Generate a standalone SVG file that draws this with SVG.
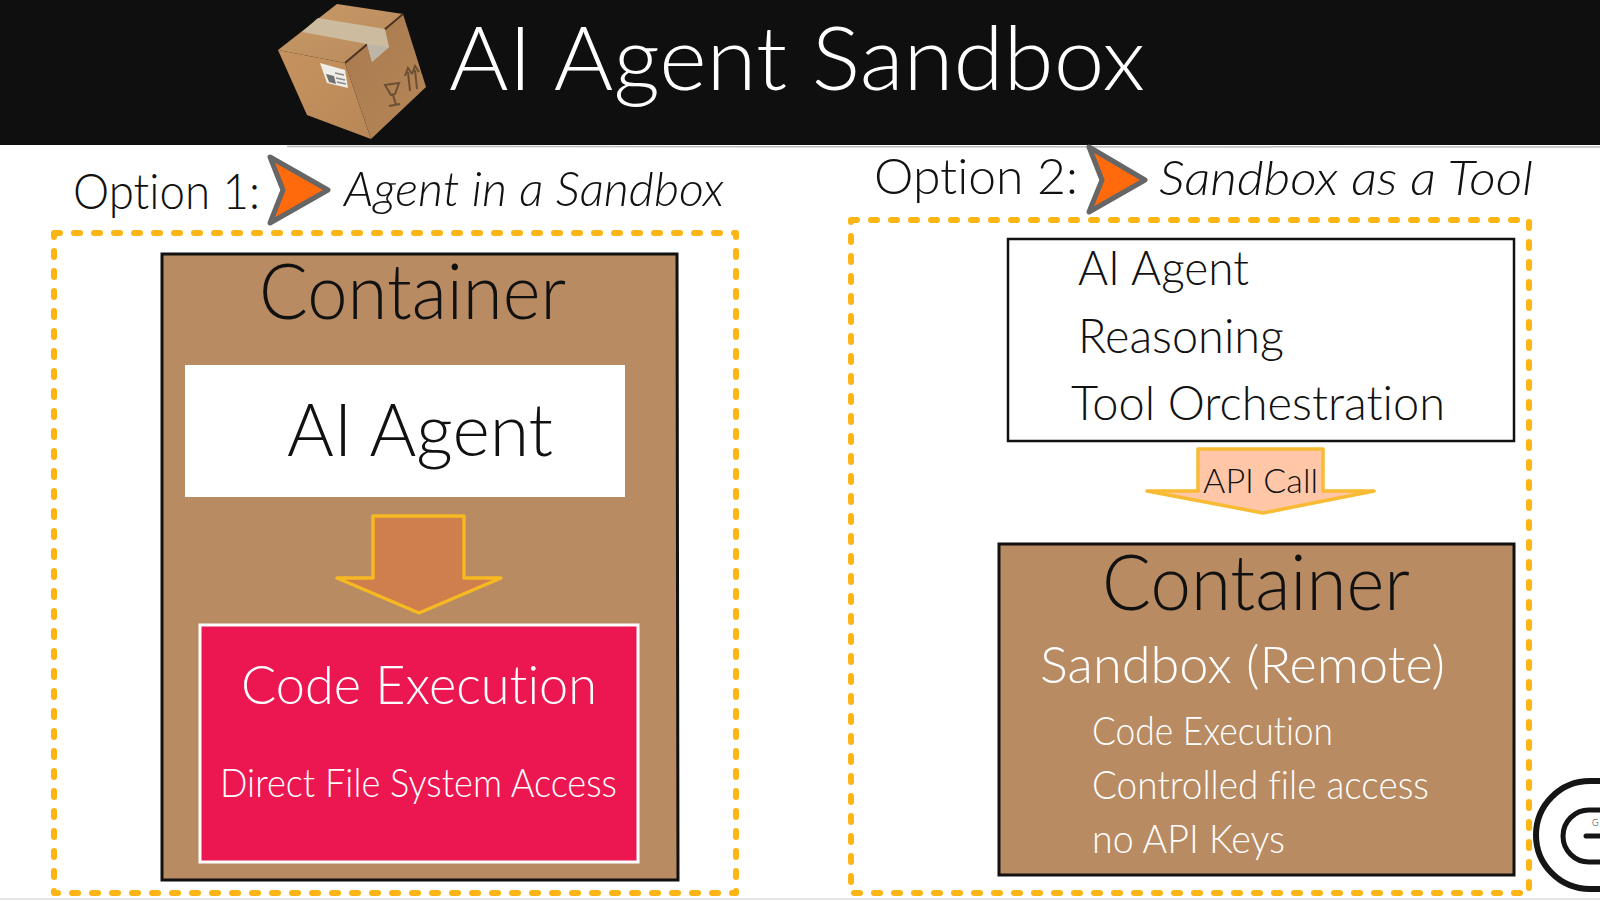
<svg xmlns="http://www.w3.org/2000/svg" width="1600" height="900" viewBox="0 0 1600 900">
<defs>
<linearGradient id="faceL" x1="0" y1="0" x2="1" y2="1"><stop offset="0" stop-color="#c6935f"/><stop offset="1" stop-color="#b98757"/></linearGradient>
<linearGradient id="faceR" x1="0" y1="0" x2="1" y2="1"><stop offset="0" stop-color="#a97a4e"/><stop offset="1" stop-color="#b58656"/></linearGradient>
<linearGradient id="faceT" x1="0" y1="0" x2="1" y2="1"><stop offset="0" stop-color="#c99a68"/><stop offset="1" stop-color="#b98a5a"/></linearGradient>
</defs>
<style>
text{font-family:"Lato","Noto Sans","Liberation Sans",sans-serif;fill:#111;font-weight:300;font-variant-ligatures:none}
.w{fill:#fff}
.i{font-style:italic}
.dash{fill:none;stroke:#fdb515;stroke-width:6;stroke-dasharray:6 14;stroke-linecap:round;stroke-linejoin:round}
.brown{fill:#b98b62;stroke:#111;stroke-width:3}
.opt{fill:#ff6a0d;stroke:#666;stroke-width:5;stroke-linejoin:round}
</style>
<rect width="1600" height="900" fill="#fff"/>
<g id="header">
<rect width="1600" height="145" fill="#0f0f0f"/>
<line x1="287" y1="146.500" x2="1600" y2="147" stroke="#bbb" stroke-width="1.500"/>
<text class="w" x="449" y="90" font-size="88" textLength="696" lengthAdjust="spacingAndGlyphs">AI Agent Sandbox</text>
</g>
<g id="box-icon">
<polygon points="278,50 337,4 403,14 345,63" fill="url(#faceT)"/>
<polygon points="278,50 345,63 371,139 307,115" fill="url(#faceL)"/>
<polygon points="345,63 403,14 426,87 371,139" fill="url(#faceR)"/>
<path d="M345,63 L403,14" stroke="#4a3322" stroke-width="2" fill="none"/>
<polygon points="302,32 318,18 385,29 389,47 372,62 367,44" fill="#cdbb9f"/>
<polygon points="367,44 389,47 372,62" fill="#bdb5a6"/>
<polygon points="320,63 345,70 348,88 327,83" fill="#efedE8"/>
<polygon points="326,74 334,76 336,84 329,82" fill="#707070"/>
<path d="M335,73 L344,75 M336,78 L345,80 M337,82 L346,84" stroke="#8a8a8a" stroke-width="1.500" fill="none"/>
<path d="M385,85 L399,83 L395,94 L391,95 Z M393,95 L396,105 M389,106 L400,104 M408,72 L410,91 M415,70 L417,89 M405,76 L408,68 L412,74 M412,74 L415,66 L419,72" stroke="#6d4f34" stroke-width="2" fill="none"/>
</g>
<g id="option-1-label">
<text x="73" y="209" font-size="50" textLength="187" lengthAdjust="spacingAndGlyphs">Option 1:</text>
<polygon class="opt" points="270,157 328,190 270,223 283,190"/>
<text class="i" x="344" y="206" font-size="48" textLength="380" lengthAdjust="spacingAndGlyphs">Agent in a Sandbox</text>
</g>
<g id="option-2-label">
<text x="874" y="194" font-size="50" textLength="204" lengthAdjust="spacingAndGlyphs">Option 2:</text>
<polygon class="opt" points="1089,147 1145,180 1089,212 1102,180"/>
<text class="i" x="1159" y="195" font-size="48" textLength="374" lengthAdjust="spacingAndGlyphs">Sandbox as a Tool</text>
</g>
<g id="option-1-frame"><rect class="dash" x="54" y="233" width="682" height="660"/></g>
<g id="option-2-frame"><rect class="dash" x="851" y="220" width="678" height="673"/></g>
<g id="container-1">
<polygon class="brown" points="162,254 677,254 678,880 162,880"/>
<text x="259" y="319" font-size="76" textLength="307" lengthAdjust="spacingAndGlyphs">Container</text>
</g>
<g id="ai-agent-1">
<rect x="185" y="365" width="440" height="132" fill="#fff"/>
<text x="287" y="456" font-size="72" textLength="266" lengthAdjust="spacingAndGlyphs">AI Agent</text>
</g>
<g id="code-execution-1">
<rect x="200" y="625" width="438" height="237" fill="#ec1651" stroke="#fff" stroke-width="3"/>
<text class="w" x="241" y="704" font-size="54" textLength="356" lengthAdjust="spacingAndGlyphs">Code Execution</text>
<text class="w" x="220" y="797" font-size="40" textLength="397" lengthAdjust="spacingAndGlyphs">Direct File System Access</text>
</g>
<g id="ai-agent-2">
<rect x="1008" y="239" width="506" height="202" fill="#fff" stroke="#111" stroke-width="2.500"/>
<text x="1078" y="285" font-size="48" textLength="171" lengthAdjust="spacingAndGlyphs">AI Agent</text>
<text x="1078" y="353" font-size="48" textLength="206" lengthAdjust="spacingAndGlyphs">Reasoning</text>
<text x="1071" y="420" font-size="48" textLength="374" lengthAdjust="spacingAndGlyphs">Tool Orchestration</text>
</g>
<g id="container-2">
<polygon class="brown" points="999,544 1514,544 1514,875 999,875"/>
<text x="1102" y="610" font-size="76" textLength="308" lengthAdjust="spacingAndGlyphs">Container</text>
<text class="w" x="1040" y="683" font-size="52" textLength="405" lengthAdjust="spacingAndGlyphs">Sandbox (Remote)</text>
<text class="w" x="1092" y="745" font-size="40" textLength="241" lengthAdjust="spacingAndGlyphs">Code Execution</text>
<text class="w" x="1092" y="799" font-size="40" textLength="337" lengthAdjust="spacingAndGlyphs">Controlled file access</text>
<text class="w" x="1092" y="853" font-size="40" textLength="193" lengthAdjust="spacingAndGlyphs">no API Keys</text>
</g>
<g id="connectors">
<polygon points="373,516 464,516 464,578 501,578 419,613 337,578 373,578" fill="#cf7f4d" stroke="#f6b921" stroke-width="3.500" stroke-linejoin="round"/>
<polygon points="1198,449 1323,449 1323,491 1374,491 1263,513 1147,491 1198,491" fill="#ffc6a8" stroke="#f8bb33" stroke-width="3.500" stroke-linejoin="round"/>
<text x="1203" y="493" font-size="34" textLength="115" lengthAdjust="spacingAndGlyphs">API Call</text>
</g>
<g id="logo" fill="none" stroke="#151515">
<path d="M1600,781 H1590 A54,54 0 0 0 1590,889 H1600" stroke-width="6"/>
<path d="M1600,810 H1589 A26,26 0 0 0 1589,862 H1600" stroke-width="5"/>
<line x1="1586" y1="836" x2="1600" y2="836" stroke-width="5" stroke-linecap="round"/>
<text x="1592" y="826" font-size="9" style="fill:#151515;stroke:none">G</text>
</g>
<rect id="bottom-edge" y="898" width="1600" height="2" fill="#e6e6e6"/>
</svg>
